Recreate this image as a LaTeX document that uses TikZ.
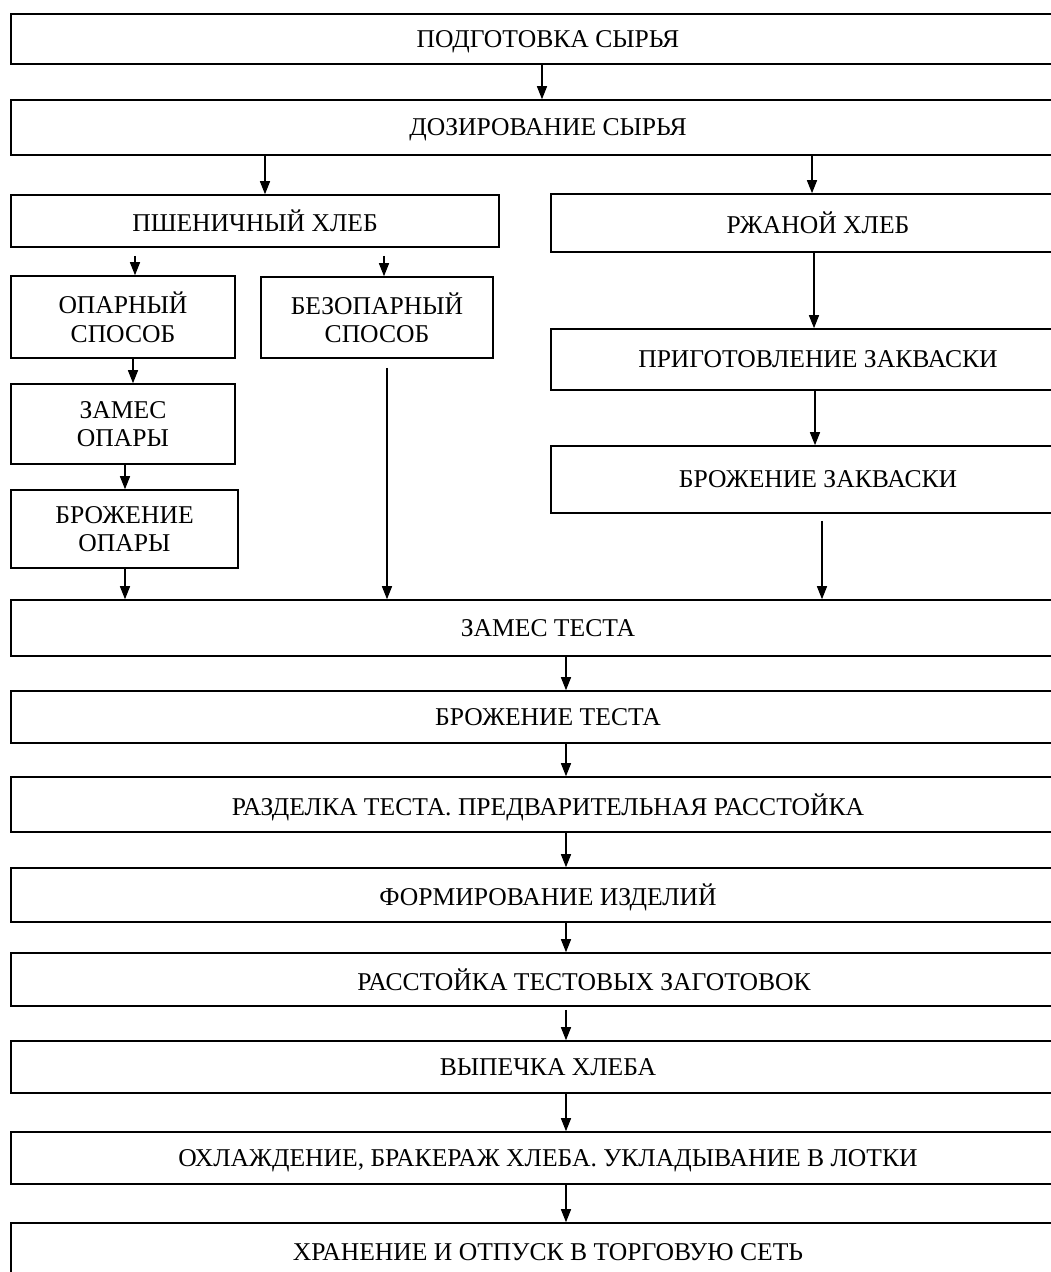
\documentclass[tikz,border=0pt]{standalone}
\usepackage{fontspec}
\setmainfont{Liberation Serif}
\usetikzlibrary{arrows.meta}

\begin{document}
\begin{tikzpicture}[x=1pt, y=-1pt,
        stage/.style={draw, rectangle, line width=1.6pt, inner sep=0pt, align=center,
            text depth=0pt, font=\fontsize{25.6}{28.5}\selectfont},
        flow/.style={-{Triangle[length=13pt, width=10pt]}, line width=1.3pt}]
        \pgfmathsetmacro{\sizeX}{1051}
        \pgfmathsetmacro{\sizeY}{1272}
        \pgfmathsetmacro{\leftX}{11}
        \pgfmathsetmacro{\rightX}{1085}
        \pgfmathsetmacro{\midX}{(\leftX+\rightX)/2}
        \pgfmathsetmacro{\fullW}{\rightX-\leftX}
        \pgfmathsetmacro{\ryeX}{(551+\rightX)/2}
        \pgfmathsetmacro{\ryeW}{\rightX-551}

        \useasboundingbox (0, 0) rectangle (\sizeX, \sizeY);
        \clip (0, 0) rectangle (\sizeX, \sizeY);

        \node[stage, minimum width=\fullW pt, minimum height=50pt] (prep) at (\midX, 39) {ПОДГОТОВКА СЫРЬЯ};
        \node[stage, minimum width=\fullW pt, minimum height=55pt] (dose) at (\midX, 127.5) {ДОЗИРОВАНИЕ СЫРЬЯ};

        \node[stage, minimum width=488pt, minimum height=52pt] (wheat) at (255, 221) {ПШЕНИЧНЫЙ ХЛЕБ};
        \node[stage, minimum width=\ryeW pt, minimum height=58pt] (rye) at (\ryeX, 223) {РЖАНОЙ ХЛЕБ};

        \node[stage, minimum width=224pt, minimum height=82pt] (sponge) at (123, 317) {ОПАРНЫЙ\\СПОСОБ};
        \node[stage, minimum width=232pt, minimum height=81pt] (nosponge) at (377, 317.5) {БЕЗОПАРНЫЙ\\СПОСОБ};
        \node[stage, minimum width=224pt, minimum height=80pt] (mixsponge) at (123, 424) {ЗАМЕС\\ОПАРЫ};
        \node[stage, minimum width=227pt, minimum height=78pt] (fermsponge) at (124.5, 529) {БРОЖЕНИЕ\\ОПАРЫ};

        \node[stage, minimum width=\ryeW pt, minimum height=61pt] (starter) at (\ryeX, 359.5) {ПРИГОТОВЛЕНИЕ ЗАКВАСКИ};
        \node[stage, minimum width=\ryeW pt, minimum height=67pt] (fermstarter) at (\ryeX, 479.5) {БРОЖЕНИЕ ЗАКВАСКИ};

        \node[stage, minimum width=\fullW pt, minimum height=56pt] (mixdough) at (\midX, 628) {ЗАМЕС ТЕСТА};
        \node[stage, minimum width=\fullW pt, minimum height=52pt] (fermdough) at (\midX, 717) {БРОЖЕНИЕ ТЕСТА};
        \node[stage, minimum width=\fullW pt, minimum height=55pt] (divide) at (\midX, 804.5) {РАЗДЕЛКА ТЕСТА. ПРЕДВАРИТЕЛЬНАЯ РАССТОЙКА};
        \node[stage, minimum width=\fullW pt, minimum height=54pt] (shape) at (\midX, 895) {ФОРМИРОВАНИЕ ИЗДЕЛИЙ};
        \node[stage, minimum width=\fullW pt, minimum height=53pt] (proof) at (\midX, 979.5) {\hspace*{72pt}РАССТОЙКА ТЕСТОВЫХ ЗАГОТОВОК};
        \node[stage, minimum width=\fullW pt, minimum height=52pt] (bake) at (\midX, 1067) {ВЫПЕЧКА ХЛЕБА};
        \node[stage, minimum width=\fullW pt, minimum height=52pt] (cool) at (\midX, 1158) {ОХЛАЖДЕНИЕ, БРАКЕРАЖ ХЛЕБА. УКЛАДЫВАНИЕ В ЛОТКИ};
        \node[stage, minimum width=\fullW pt, minimum height=58pt] (store) at (\midX, 1252) {ХРАНЕНИЕ И ОТПУСК В ТОРГОВУЮ СЕТЬ};

        \draw[flow] ([xshift=-6pt]prep.south) -- ([xshift=-6pt]dose.north);
        \draw[flow] ([xshift=-283pt]dose.south) -- ([xshift=10pt]wheat.north);
        \draw[flow] ([xshift=264pt]dose.south) -- ([xshift=-6pt]rye.north);

        \draw[flow] ([xshift=-120pt, yshift=-8pt]wheat.south) -- ([xshift=12pt]sponge.north);
        \draw[flow] ([xshift=129pt, yshift=-8pt]wheat.south) -- ([xshift=7pt]nosponge.north);
        \draw[flow] ([xshift=10pt]sponge.south) -- ([xshift=10pt]mixsponge.north);
        \draw[flow] ([xshift=2pt]mixsponge.south) -- ([xshift=0.5pt]fermsponge.north);
        \draw[flow] ([xshift=0.5pt]fermsponge.south) -- ([xshift=-423pt]mixdough.north);
        \draw[flow] ([xshift=10pt, yshift=-9pt]nosponge.south) -- ([xshift=-161pt]mixdough.north);

        \draw[flow] ([xshift=-4pt]rye.south) -- ([xshift=-4pt]starter.north);
        \draw[flow] ([xshift=-3pt]starter.south) -- ([xshift=-3pt]fermstarter.north);
        \draw[flow] ([xshift=4pt, yshift=-7pt]fermstarter.south) -- ([xshift=274pt]mixdough.north);

        \draw[flow] ([xshift=18pt]mixdough.south) -- ([xshift=18pt]fermdough.north);
        \draw[flow] ([xshift=18pt]fermdough.south) -- ([xshift=18pt]divide.north);
        \draw[flow] ([xshift=18pt]divide.south) -- ([xshift=18pt]shape.north);
        \draw[flow] ([xshift=18pt]shape.south) -- ([xshift=18pt]proof.north);
        \draw[flow] ([xshift=18pt, yshift=-3pt]proof.south) -- ([xshift=18pt]bake.north);
        \draw[flow] ([xshift=18pt]bake.south) -- ([xshift=18pt]cool.north);
        \draw[flow] ([xshift=18pt]cool.south) -- ([xshift=18pt]store.north);
    \end{tikzpicture}
\end{document}
